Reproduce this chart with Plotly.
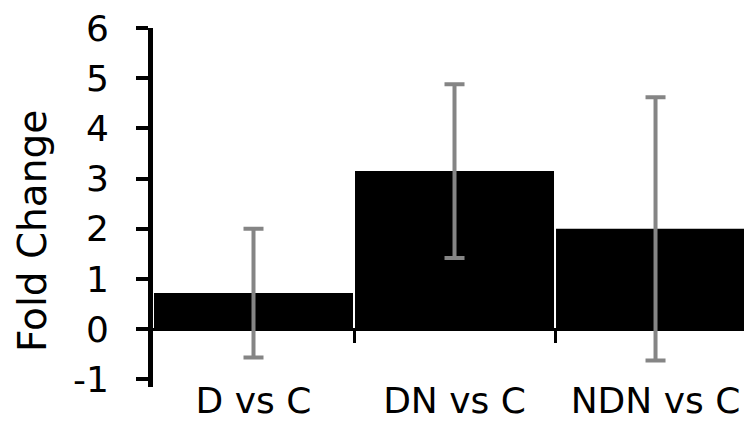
import plotly.graph_objects as go

categories = ["D vs C", "DN vs C", "NDN vs C"]
fold_change = [0.72, 3.15, 2.0]
error = [1.28, 1.73, 2.62]
y_ticks = [-1, 0, 1, 2, 3, 4, 5, 6]
y_tick_labels = ["-1", "0", "1", "2", "3", "4", "5", "6"]

x_pos = list(range(len(categories)))
x_range = [-0.5, 2.48]
y_range = [-1.15, 6]
boundaries = [p + 0.5 for p in x_pos[:-1]]

FONT = "DejaVu Sans"

fig = go.Figure()
fig.add_trace(go.Bar(
    x=x_pos, y=fold_change,
    marker=dict(color="black", line=dict(width=0)),
    error_y=dict(type="data", array=error, visible=True,
                 color="#858585", thickness=4, width=10),
    showlegend=False, hoverinfo="skip",
))
# invisible trace to carry the category-boundary tick axis
fig.add_trace(go.Scatter(x=[x_pos[0]], y=[0], xaxis="x2", mode="markers",
                         marker=dict(opacity=0), showlegend=False, hoverinfo="skip"))

zero_pos = (0 - y_range[0]) / (y_range[1] - y_range[0])

# the page body has an 8px default margin, so the figure is 8px smaller
fig.update_layout(
    width=744, height=413,
    margin=dict(l=145, r=0, t=20, b=34),
    paper_bgcolor="white", plot_bgcolor="white",
    bargap=0.01,
    xaxis=dict(range=x_range, tickvals=x_pos, ticktext=categories,
               showline=False, showgrid=False, zeroline=False, ticks="",
               ticklabelstandoff=-11, ticklabeloverflow="allow",
               tickfont=dict(family=FONT, size=36, color="black"),
               automargin=False, fixedrange=True),
    xaxis2=dict(range=x_range, overlaying="x", anchor="free", position=zero_pos,
                side="bottom", tickvals=boundaries, ticks="outside", ticklen=13,
                tickwidth=3, tickcolor="black", showticklabels=False,
                showline=False, showgrid=False, zeroline=False),
    yaxis=dict(range=y_range, tickvals=y_ticks, ticktext=y_tick_labels,
               showgrid=False,
               showline=True, linecolor="black", linewidth=5,
               ticks="outside", ticklen=12, tickwidth=4, tickcolor="black",
               ticklabelstandoff=20, ticklabeloverflow="allow",
               tickfont=dict(family=FONT, size=36, color="black"),
               zeroline=True, zerolinecolor="black", zerolinewidth=3,
               automargin=False),
    annotations=[dict(text="Fold Change", textangle=-90, xref="paper", yref="paper",
                      x=(32 - 153) / 599, y=(387 - 231) / 359,
                      xanchor="center", yanchor="middle", showarrow=False,
                      font=dict(family=FONT, size=39, color="black"))],
)

fig.write_html("out.html")
